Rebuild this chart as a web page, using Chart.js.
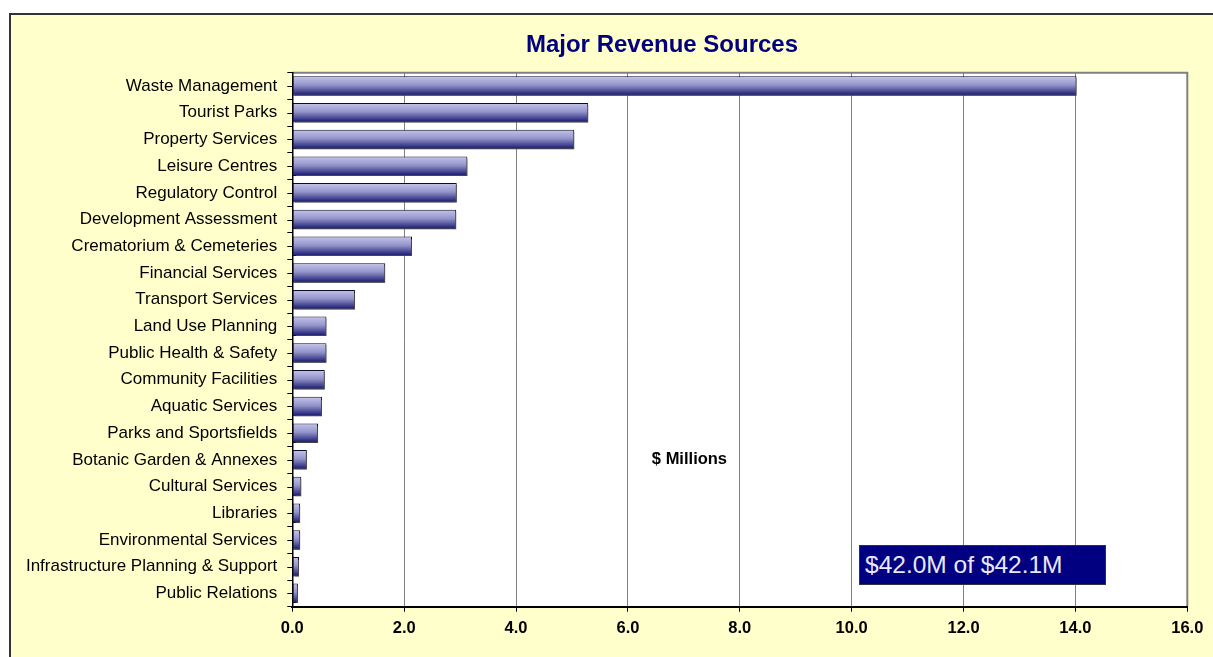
<!DOCTYPE html>
<html>
<head>
<meta charset="utf-8">
<script src="https://cdn.jsdelivr.net/npm/chart.js@4.4.0/dist/chart.umd.min.js"></script>
<style>
  html, body { margin: 0; padding: 0; background: #fff; overflow: hidden; }
  #frame {
    position: absolute; left: 9px; top: 13px; width: 1220px; height: 660px;
    border: 2px solid #333; background: #ffffcc;
  }
  #wrap { position: absolute; left: 0; top: 0; width: 1202px; height: 642px; }
  #total {
    position: absolute; left: 859px; top: 545px; width: 240px; height: 38px;
    background: #000080; border: 1px solid #333; color: #e8e8ff;
    font: 24.5px "Liberation Sans", Arial, sans-serif; line-height: 37px; padding-left: 5px;
  }
</style>
</head>
<body>
<div id="frame"><div id="wrap"><canvas id="myChart"></canvas></div></div>
<div id="total">$42.0M of $42.1M</div>
<script>
const categories = [
  'Waste Management', 'Tourist Parks', 'Property Services', 'Leisure Centres',
  'Regulatory Control', 'Development Assessment', 'Crematorium & Cemeteries',
  'Financial Services', 'Transport Services', 'Land Use Planning',
  'Public Health & Safety', 'Community Facilities', 'Aquatic Services',
  'Parks and Sportsfields', 'Botanic Garden & Annexes', 'Cultural Services',
  'Libraries', 'Environmental Services', 'Infrastructure Planning & Support',
  'Public Relations'
];
const revenue = [14.02, 5.29, 5.04, 3.13, 2.94, 2.93, 2.14, 1.66, 1.12, 0.61,
                 0.61, 0.58, 0.53, 0.46, 0.26, 0.16, 0.14, 0.14, 0.12, 0.10];
const titleText = 'Major Revenue Sources';
const axisTitle = '$ Millions';

const FONT = '"Liberation Sans", Arial, sans-serif';

function barFill(context) {
  const chart = context.chart;
  const y = chart.scales.y;
  if (!chart.chartArea || !y) return '#6a6aa8';
  const c = y.getPixelForValue(context.dataIndex);
  const h = 10;
  const g = chart.ctx.createLinearGradient(0, c - h, 0, c + h);
  g.addColorStop(0, '#c6c6ec');
  g.addColorStop(0.45, '#9494cb');
  g.addColorStop(1, '#10106a');
  return g;
}

const decor = {
  id: 'decor',
  beforeDraw(chart) {
    const { ctx, chartArea: a } = chart;
    ctx.save();
    ctx.fillStyle = '#fff';
    ctx.fillRect(a.left, a.top, a.right - a.left, a.bottom - a.top);
    ctx.strokeStyle = '#808080';
    ctx.lineWidth = 2;
    ctx.beginPath();
    ctx.moveTo(a.left, a.top);
    ctx.lineTo(a.right, a.top);
    ctx.lineTo(a.right, a.bottom);
    ctx.stroke();
    ctx.restore();
  },
  beforeDatasetDraw(chart) {
    const ctx = chart.ctx;
    ctx.save();
    ctx.shadowColor = 'rgba(80,80,80,0.85)';
    ctx.shadowOffsetX = 2;
    ctx.shadowOffsetY = 2;
    ctx.shadowBlur = 0;
  },
  afterDatasetDraw(chart) {
    chart.ctx.restore();
  },
  afterDraw(chart) {
    const { ctx, scales } = chart;
    ctx.save();
    // centre tick marks on category axis
    ctx.strokeStyle = '#000';
    ctx.lineWidth = 1;
    const left = scales.y.right;
    categories.forEach((_, i) => {
      const py = Math.round(scales.y.getPixelForValue(i)) + 0.5;
      ctx.beginPath();
      ctx.moveTo(left - 5, py);
      ctx.lineTo(left, py);
      ctx.stroke();
    });
    ctx.fillStyle = '#000080';
    ctx.font = 'bold 24px ' + FONT;
    ctx.textAlign = 'center';
    ctx.textBaseline = 'middle';
    ctx.fillText(titleText, 651, 30);
    ctx.fillStyle = '#000';
    ctx.font = 'bold 16.5px ' + FONT;
    ctx.fillText(axisTitle, scales.x.getPixelForValue(7.1), scales.y.getPixelForValue(14));
    ctx.restore();
  }
};

const ctx = document.getElementById('myChart').getContext('2d');
new Chart(ctx, {
  type: 'bar',
  data: {
    labels: categories,
    datasets: [{
      data: revenue,
      backgroundColor: barFill,
      borderColor: '#0a0a30',
      borderWidth: 1,
      borderSkipped: false,
      categoryPercentage: 1,
      barPercentage: 0.73
    }]
  },
  options: {
    indexAxis: 'y',
    responsive: true,
    maintainAspectRatio: false,
    animation: false,
    layout: { padding: { top: 57.7, right: 25.7, left: 0, bottom: 0 } },
    plugins: {
      legend: { display: false },
      title: { display: false },
      tooltip: { enabled: false }
    },
    scales: {
      x: {
        min: 0,
        max: 16,
        ticks: {
          stepSize: 2,
          color: '#000',
          padding: 7,
          font: { family: FONT, size: 16.5, weight: 'bold' },
          callback: v => Number(v).toFixed(1)
        },
        grid: { color: '#808080', lineWidth: 1, tickLength: 5, tickColor: '#000' },
        border: { color: '#000', width: 2 },
        afterFit(s) { s.height = 50.3; }
      },
      y: {
        ticks: {
          color: '#000',
          padding: 10,
          autoSkip: false,
          font: { family: FONT, size: 17 }
        },
        grid: { offset: true, drawOnChartArea: false, tickLength: 5, tickColor: '#000' },
        border: { color: '#000', width: 1.5 },
        afterFit(s) { s.width = 281.3; }
      }
    }
  },
  plugins: [decor]
});
</script>
</body>
</html>
